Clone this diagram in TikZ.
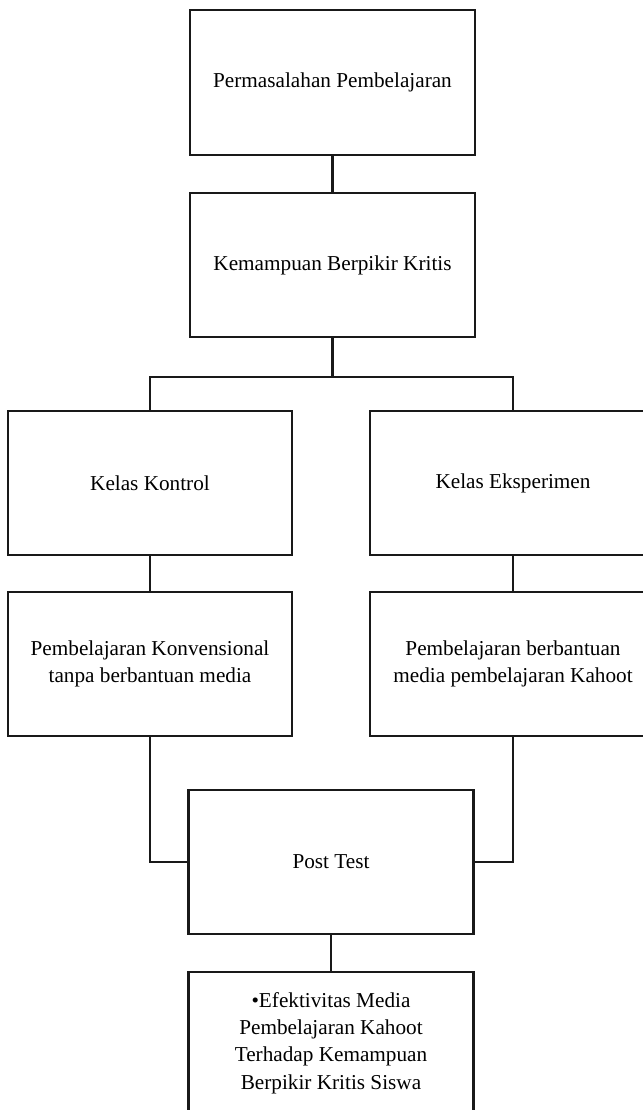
\documentclass[tikz,border=0pt]{standalone}
\usepackage{fontspec}
\setmainfont{Liberation Serif}
\begin{document}
\begin{tikzpicture}[x=1bp,y=-1bp,
  box/.style={draw=black!90, line width=2.7bp, fill=white, rectangle, align=center,
    font=\fontsize{21.3}{27.5}\selectfont, inner sep=0pt},
  link/.style={draw=black!90, line width=2.7bp}]
\useasboundingbox (0,0) rectangle (643,1110);
\clip (0,0) rectangle (643,1110);
\node[box, minimum width=285bp, minimum height=145bp] (b1) at (332.5,82.5) {Permasalahan Pembelajaran};
\node[box, minimum width=285bp, minimum height=144bp] (b2) at (332.5,265) {Kemampuan Berpikir Kritis};
\node[box, minimum width=284bp, minimum height=144bp] (kk) at (150,483) {Kelas Kontrol};
\node[box, minimum width=286bp, minimum height=144bp] (ke) at (513,483) {Kelas Eksperimen};
\node[box, minimum width=284bp, minimum height=144bp] (pk) at (150,664) {Pembelajaran Konvensional\\tanpa berbantuan media};
\node[box, minimum width=286bp, minimum height=144bp] (pe) at (513,664) {Pembelajaran berbantuan\\media pembelajaran Kahoot};
\node[box, minimum width=285bp, minimum height=144bp] (pt) at (331,862) {Post Test};
\node[box, minimum width=285bp, minimum height=142bp] (ef) at (331,1043) {\textbullet Efektivitas Media\\Pembelajaran Kahoot\\Terhadap Kemampuan\\Berpikir Kritis Siswa};
\coordinate (split) at (332.5,377);
\draw[link] (b1.south) -- (b2.north);
\draw[link] (b2.south) -- (split);
\draw[link] (kk.north) |- (split) -| (ke.north);
\draw[link] (kk.south) -- (pk.north);
\draw[link] (ke.south) -- (pe.north);
\draw[link] (pk.south) |- (pt.west);
\draw[link] (pe.south) |- (pt.east);
\draw[link] (pt.south) -- (ef.north);
\end{tikzpicture}
\end{document}
